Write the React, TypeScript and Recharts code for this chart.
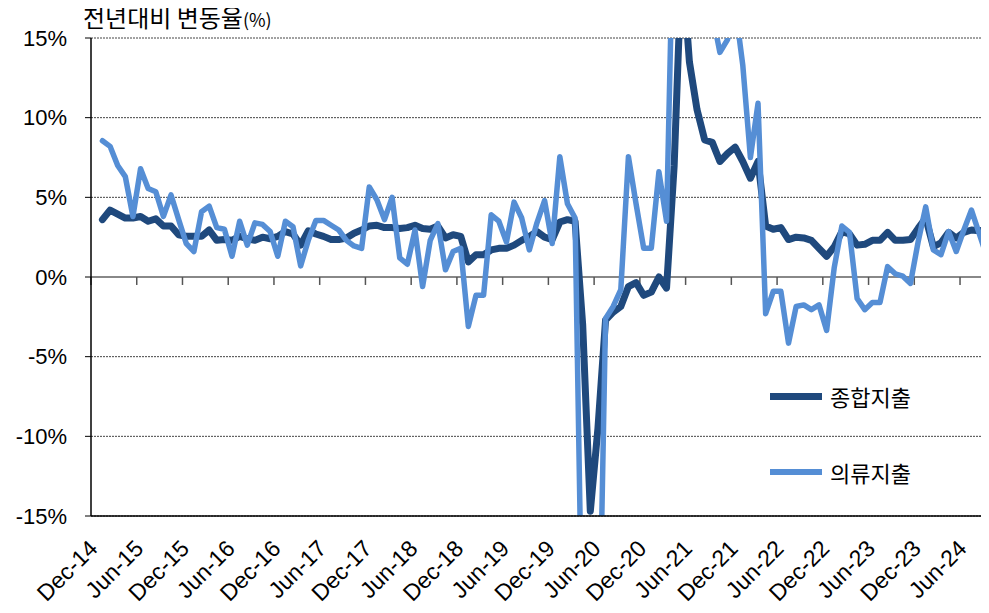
import { LineChart, Line, XAxis, YAxis, CartesianGrid, ReferenceLine } from "recharts";

// monthly YoY change (%), Jan-15 .. Sep-24
const total = [
  3.6, 4.2, 3.95, 3.7, 3.7, 3.8, 3.5, 3.65, 3.2, 3.2, 2.65, 2.55,
  2.55, 2.55, 2.95, 2.3, 2.35, 2.3, 2.55, 2.4, 2.3, 2.5, 2.4, 2.55,
  2.85, 2.7, 2.0, 2.9, 2.7, 2.55, 2.35, 2.35, 2.45, 2.75, 2.95, 3.2,
  3.25, 3.1, 3.1, 3.05, 3.1, 3.25, 3.05, 3.0, 3.2, 2.45, 2.65, 2.55,
  0.95, 1.4, 1.4, 1.7, 1.8, 1.8, 2.0, 2.3, 2.55, 2.85, 2.5, 2.35,
  3.45, 3.6, 3.5, -3.0, -14.7, -9.5, -2.7, -2.2, -1.85, -0.6, -0.35, -1.15,
  -0.95, 0.0, -0.7, 7.0, 20, 13.5, 10.5, 8.6, 8.45, 7.25, 7.75, 8.15,
  7.25, 6.2, 7.25, 3.2, 3.0, 3.1, 2.35, 2.5, 2.45, 2.3, 1.8, 1.3,
  1.9, 2.85, 2.7, 2.0, 2.05, 2.3, 2.3, 2.8, 2.3, 2.3, 2.35, 3.05,
  3.7, 1.9, 2.15, 2.8, 2.45, 2.8, 2.95, 2.9, 2.95,
];

const clothing = [
  8.55, 8.2, 7.0, 6.3, 3.8, 6.8, 5.55, 5.35, 3.8, 5.15, 3.6, 2.1,
  1.6, 4.1, 4.45, 3.1, 3.0, 1.3, 3.5, 2.0, 3.4, 3.3, 2.85, 1.3,
  3.5, 3.15, 0.7, 2.3, 3.55, 3.55, 3.25, 2.95, 2.3, 1.95, 1.8, 5.65,
  4.85, 3.6, 5.0, 1.2, 0.8, 2.95, -0.6, 2.3, 3.35, 0.45, 1.6, 1.8,
  -3.1, -1.15, -1.15, 3.9, 3.5, 2.2, 4.7, 3.7, 1.7, 3.4, 4.8, 2.1,
  7.55, 4.6, 3.7, -25, -30, -28, -2.6, -1.85, -0.8, 7.55, 4.6, 1.8,
  1.8, 6.6, 3.5, 25, 40, 35, 28, 22, 16.5, 14.1, 14.9, 17,
  13.3, 7.5, 10.9, -2.3, -0.9, -0.9, -4.15, -1.85, -1.75, -2.05, -1.75, -3.35,
  0.6, 3.2, 2.8, -1.35, -2.05, -1.6, -1.6, 0.65, 0.2, 0.05, -0.4, 2.2,
  4.4, 1.7, 1.4, 2.85, 1.6, 2.95, 4.2, 2.75, 1.3,
];

const xTickLabels = [
  "Dec-14", "Jun-15", "Dec-15", "Jun-16", "Dec-16", "Jun-17", "Dec-17", "Jun-18", "Dec-18", "Jun-19",
  "Dec-19", "Jun-20", "Dec-20", "Jun-21", "Dec-21", "Jun-22", "Dec-22", "Jun-23", "Dec-23", "Jun-24",
];

const yTicks = [-15, -10, -5, 0, 5, 10, 15];

const seriesNames = ["종합지출", "의류지출"];
const seriesColors = ["#1F497D", "#558ED5"];

const data = total.map((v, i) => ({ idx: i, total: v, clothing: clothing[i] }));
const xTicks = xTickLabels.map((_, j) => j * 6 - 1.5);

const font = "'Liberation Sans', Arial, sans-serif";
const krFont = "'Noto Sans CJK KR', sans-serif";

const XTick = ({ x, y, payload }: any) => {
  const label = xTickLabels[Math.round((payload.value + 1.5) / 6)];
  const ax = x + 8;
  const ay = y + 32;
  return (
    <text x={ax} y={ay} textAnchor="end" fontSize={23} fontFamily={font} fill="#000" transform={`rotate(-45, ${ax}, ${ay})`}>
      {label}
    </text>
  );
};

const App = () => {
  return (
    <div style={{ position: "relative", width: 981, height: 605 }}>
      <LineChart width={981} height={605} data={data} margin={{ top: 30, right: 0, bottom: 0, left: 0 }}>
        <CartesianGrid vertical={false} stroke="#444" strokeDasharray="2 1" />
        <XAxis
          dataKey="idx"
          type="number"
          domain={[-1.5, 116.3]}
          ticks={xTicks}
          interval={0}
          tick={<XTick />}
          tickLine={false}
          tickSize={0}
          axisLine={{ stroke: "#000", strokeWidth: 1.5 }}
          height={97}
          allowDataOverflow
        />
        <YAxis
          type="number"
          domain={[-15, 15]}
          ticks={yTicks}
          allowDataOverflow
          width={83}
          tickSize={6}
          tickMargin={18}
          tickFormatter={(v: number) => `${v}%`}
          tick={{ fontSize: 22, fontFamily: font, fill: "#000" }}
          axisLine={{ stroke: "#000", strokeWidth: 1.5 }}
          tickLine={{ stroke: "#000" }}
        />
        <ReferenceLine y={0} stroke="#888" strokeWidth={2} />
        {xTicks.map((t) => (
          <ReferenceLine key={t} segment={[{ x: t, y: 0 }, { x: t, y: -0.5 }]} stroke="#555" strokeWidth={1.5} />
        ))}
        <Line
          type="linear"
          dataKey="total"
          name={seriesNames[0]}
          stroke={seriesColors[0]}
          strokeWidth={7}
          strokeLinejoin="round"
          strokeLinecap="round"
          dot={false}
          isAnimationActive={false}
        />
        <Line
          type="linear"
          dataKey="clothing"
          name={seriesNames[1]}
          stroke={seriesColors[1]}
          strokeWidth={5.5}
          strokeLinejoin="round"
          strokeLinecap="round"
          dot={false}
          isAnimationActive={false}
        />
      </LineChart>
      <div style={{ position: "absolute", left: 75, top: -4, fontFamily: krFont, fontSize: 24, lineHeight: "26px", color: "#000", whiteSpace: "nowrap" }}>
        전년대비 변동율<span style={{ fontSize: 18 }}>(%)</span>
      </div>
      {seriesNames.map((name, i) => (
        <div key={name} style={{ position: "absolute", left: 762, top: 374 + i * 76, display: "flex", alignItems: "center", height: 28 }}>
          <div style={{ width: 52, height: i === 0 ? 7 : 6, background: seriesColors[i] }} />
          <span style={{ marginLeft: 8, fontFamily: krFont, fontSize: 22, color: "#000" }}>{name}</span>
        </div>
      ))}
    </div>
  );
};

export default App;
